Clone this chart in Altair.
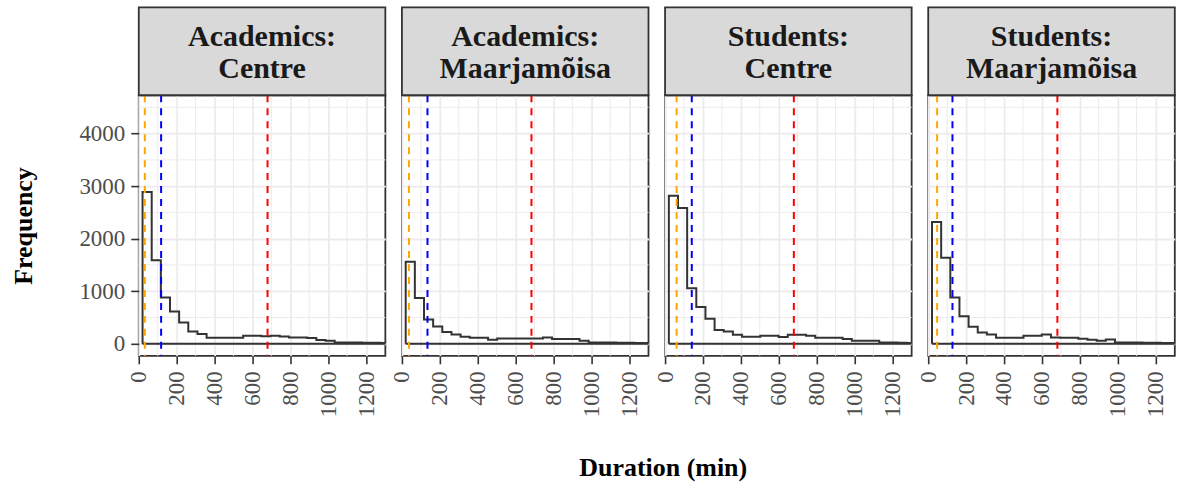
import altair as alt
import pandas as pd

# Facet labels (two lines per strip)
strip_line1 = ["Academics:", "Academics:", "Students:", "Students:"]
strip_line2 = ["Centre", "Maarjamõisa", "Centre", "Maarjamõisa"]

# Histogram bins (minutes)
bin_start = 20.0
bin_width = 48.3

# Bin counts per group
counts_acad_centre = [2890, 1590, 880, 615, 405, 235, 183, 114, 114, 114, 114, 150, 152, 140,
                      152, 139, 120, 120, 107, 70, 57, 25, 25, 22, 20, 18, 15]
counts_acad_maarja = [1560, 872, 461, 328, 221, 177, 133, 114, 114, 76, 101, 101, 101, 101,
                      101, 120, 88, 88, 88, 57, 25, 25, 22, 20, 18, 15, 15]
counts_stud_centre = [2817, 2584, 1055, 701, 474, 259, 234, 171, 133, 133, 152, 152, 126, 171,
                      171, 152, 114, 114, 114, 88, 57, 57, 57, 25, 22, 18, 15]
counts_stud_maarja = [2318, 1636, 878, 524, 322, 215, 177, 114, 114, 114, 152, 152, 177, 120,
                      114, 114, 95, 76, 57, 82, 25, 25, 22, 20, 18, 15, 15]
all_counts = [counts_acad_centre, counts_acad_maarja, counts_stud_centre, counts_stud_maarja]

# Summary statistics per group (minutes)
median_min = [32, 37, 61, 47]
mean_min = [118, 135, 141, 128]
p95_min = [680, 684, 680, 682]

# Axis breaks
x_ticks = [0, 200, 400, 600, 800, 1000, 1200]
x_minor = [100, 300, 500, 700, 900, 1100]
y_ticks = [0, 1000, 2000, 3000, 4000]
y_minor = [500, 1500, 2500, 3500, 4500]

X_DOMAIN = [0, 1302]
Y_DOMAIN = [-230, 4730]
PANEL_W = 247
PANEL_H = 261
STRIP_H = 88
SERIF = "Liberation Serif"
GRID = "#eeeaee"
STAT_COLORS = {"median": "orange", "mean": "blue", "p95": "red"}


def outline(counts):
    edges = [bin_start + i * bin_width for i in range(len(counts) + 1)]
    xs, ys = [edges[0]], [0]
    for i, c in enumerate(counts):
        xs += [edges[i], edges[i + 1]]
        ys += [c, c]
    xs += [edges[-1], edges[0]]
    ys += [0, 0]
    return pd.DataFrame({"minutes": xs, "count": ys, "step": range(len(xs))})


xscale = alt.Scale(domain=X_DOMAIN, nice=False, zero=False)
yscale = alt.Scale(domain=Y_DOMAIN, nice=False, zero=False)


def panel(i):
    first = i == 0
    x_axis = alt.Axis(values=x_ticks, labelAngle=270, title=None, format="d")
    if first:
        y_axis = alt.Axis(values=y_ticks, title="Frequency", titleFont=SERIF, format="d",
                          titleFontSize=26, titleFontWeight="bold", titleColor="black",
                          titlePadding=42)
    else:
        y_axis = alt.Axis(values=y_ticks, labels=False, ticks=False, title=None)

    minor_x = alt.Chart(pd.DataFrame({"v": x_minor})).mark_rule(
        color=GRID, strokeWidth=1.0
    ).encode(x=alt.X("v:Q", scale=xscale, axis=x_axis))
    minor_y = alt.Chart(pd.DataFrame({"v": y_minor})).mark_rule(
        color=GRID, strokeWidth=1.0
    ).encode(y=alt.Y("v:Q", scale=yscale, axis=y_axis))

    hist = alt.Chart(outline(all_counts[i])).mark_line(
        color="#333333", strokeWidth=2, clip=True, interpolate="linear"
    ).encode(
        x=alt.X("minutes:Q", scale=xscale, axis=x_axis),
        y=alt.Y("count:Q", scale=yscale, axis=y_axis),
        order="step:Q",
    )

    stats = pd.DataFrame({
        "stat": ["median", "mean", "p95"],
        "minutes": [median_min[i], mean_min[i], p95_min[i]],
    })
    vlines = alt.Chart(stats).mark_rule(strokeDash=[7, 6], strokeWidth=2).encode(
        x=alt.X("minutes:Q", scale=xscale, axis=x_axis),
        color=alt.Color("stat:N", legend=None,
                        scale=alt.Scale(domain=list(STAT_COLORS),
                                        range=list(STAT_COLORS.values()))),
    )

    strip_df = pd.DataFrame({"l1": [strip_line1[i]], "l2": [strip_line2[i]]})
    strip_box = alt.Chart(strip_df).mark_rect(
        fill="#d9d9d9", stroke="#333333", strokeWidth=1.8
    ).encode(x=alt.value(0), x2=alt.value(PANEL_W), y=alt.value(-STRIP_H), y2=alt.value(0))
    text_style = dict(font=SERIF, fontSize=30, fontWeight="bold", color="#1a1a1a",
                      align="center", baseline="alphabetic")
    strip_t1 = alt.Chart(strip_df).mark_text(**text_style).encode(
        text="l1:N", x=alt.value(PANEL_W / 2), y=alt.value(-49))
    strip_t2 = alt.Chart(strip_df).mark_text(**text_style).encode(
        text="l2:N", x=alt.value(PANEL_W / 2), y=alt.value(-17))

    return alt.layer(minor_x, minor_y, hist, vlines, strip_box, strip_t1, strip_t2).properties(
        width=PANEL_W, height=PANEL_H
    )


chart = alt.hconcat(*[panel(i) for i in range(4)], spacing=16.6, bounds="flush").properties(
    padding={"left": 10, "top": 5, "right": 0, "bottom": 5},
    title=alt.TitleParams(
        "Duration (min)", orient="bottom", anchor="middle", font=SERIF, fontSize=26,
        fontWeight="bold", color="black", offset=37, dx=70,
    ),
).configure_view(
    stroke="#333333", strokeWidth=1.8
).configure_axis(
    labelFont=SERIF, labelFontSize=23, labelColor="#4d4d4d",
    tickColor="#333333", tickSize=8, tickWidth=1.6,
    gridColor=GRID, gridWidth=1.8, domain=False, labelPadding=6,
).configure_axisX(
    labelPadding=7,
)

chart.save("out.html", embed_options={"renderer": "svg", "actions": False})
